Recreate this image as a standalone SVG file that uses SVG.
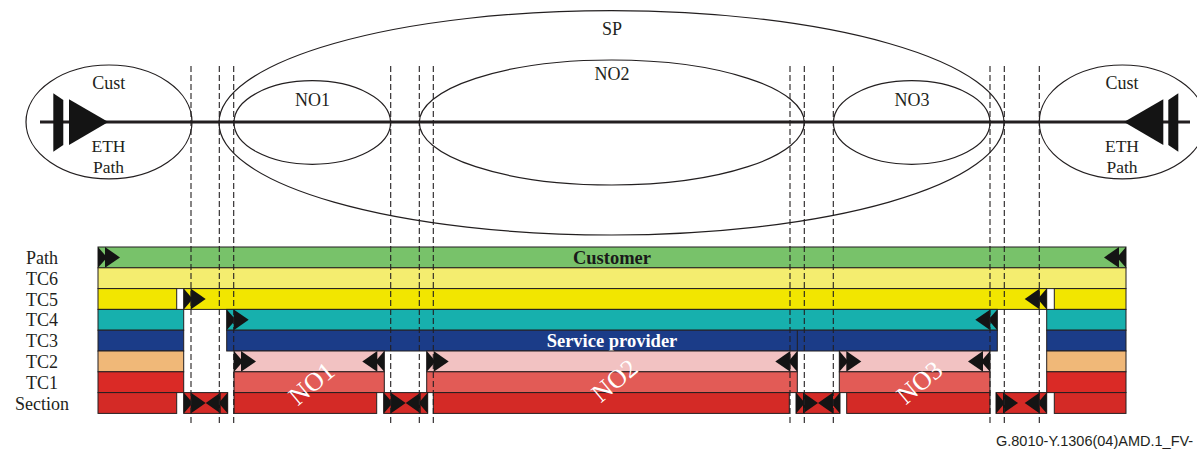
<svg xmlns="http://www.w3.org/2000/svg" width="1197" height="450" viewBox="0 0 1197 450">
<style>
.t{font-family:"Liberation Serif","Times New Roman",serif;font-size:18px;fill:#231f20;text-anchor:middle}
.s{font-family:"Liberation Serif","Times New Roman",serif;font-size:17.5px;fill:#231f20;text-anchor:middle}
.b{font-family:"Liberation Serif","Times New Roman",serif;font-size:18.5px;font-weight:bold;text-anchor:middle}
.r{font-family:"Liberation Serif","Times New Roman",serif;font-size:26px;fill:#fff;text-anchor:middle}
.e{fill:none;stroke:#231f20;stroke-width:1.2}
.bar rect{stroke:#231f20;stroke-width:1}
.dash{stroke:#231f20;stroke-width:1.1;stroke-dasharray:6 3;fill:none}
.ah{fill:#141414}
</style>
<defs>
<g id="ar" class="ah"><polygon points="0,0 9,10.4 0,20.8"/><polygon points="7,0 22,10.4 7,20.8"/></g>
<g id="al" class="ah"><polygon points="0,0 -9,10.4 0,20.8"/><polygon points="-7,0 -22,10.4 -7,20.8"/></g>
</defs>
<rect width="1197" height="450" fill="#fff"/>

<g id="node-sp"><ellipse class="e" cx="611.5" cy="122.8" rx="392.5" ry="112.2"/><text class="t" x="612" y="35">SP</text></g>
<g id="node-no1"><ellipse class="e" cx="312.3" cy="122.5" rx="78.3" ry="41.8"/><text class="t" x="312.5" y="106">NO1</text></g>
<g id="node-no2"><ellipse class="e" cx="611.8" cy="122.5" rx="192.5" ry="62.5"/><text class="t" x="612" y="80">NO2</text></g>
<g id="node-no3"><ellipse class="e" cx="911.7" cy="122.5" rx="78.3" ry="41.8"/><text class="t" x="912" y="106">NO3</text></g>
<g id="node-cust-left"><ellipse class="e" cx="109" cy="121.9" rx="83" ry="56.9"/><text class="t" x="108.7" y="89.3">Cust</text><text class="s" x="108.5" y="152">ETH</text><text class="s" x="108.5" y="172.5">Path</text></g>
<g id="node-cust-right"><ellipse class="e" cx="1122.3" cy="121.9" rx="83" ry="56.9"/><text class="t" x="1122" y="89.3">Cust</text><text class="s" x="1122" y="152">ETH</text><text class="s" x="1122" y="172.5">Path</text></g>

<g id="connectors">
<line x1="40" y1="122" x2="1190" y2="122" stroke="#231f20" stroke-width="3"/>
<polygon class="ah" points="53.3,93.3 63.3,100 63.3,145 53.3,151.7"/>
<polygon class="ah" points="69,99.3 108.3,122 69,145"/>
<polygon class="ah" points="1178.3,93.3 1168.3,100 1168.3,145 1178.3,151.7"/>
<polygon class="ah" points="1163.3,99.3 1124,122 1163.3,145"/>
</g>

<g id="labels">
<text class="t" x="42" y="264">Path</text>
<text class="t" x="42" y="284.8">TC6</text>
<text class="t" x="42" y="305.6">TC5</text>
<text class="t" x="42" y="326.4">TC4</text>
<text class="t" x="42" y="347.2">TC3</text>
<text class="t" x="42" y="368">TC2</text>
<text class="t" x="42" y="388.8">TC1</text>
<text class="t" x="42" y="409.6">Section</text>
</g>

<g id="row-path" class="bar">
<rect x="98" y="247" width="1028" height="20.8" fill="#78c26a"/>
<use href="#ar" x="98" y="247"/><use href="#al" x="1126" y="247"/>
<text class="b" x="612" y="264" fill="#1a1a1a">Customer</text>
</g>
<g id="row-tc6" class="bar">
<rect x="98" y="267.8" width="1028" height="20.8" fill="#f4ed6f"/>
</g>
<g id="row-tc5" class="bar">
<rect x="98" y="288.6" width="78.7" height="20.8" fill="#f2e600"/>
<rect x="183.7" y="288.6" width="863" height="20.8" fill="#f2e600"/>
<rect x="1054.3" y="288.6" width="71.7" height="20.8" fill="#f2e600"/>
<use href="#ar" x="183.7" y="288.6"/><use href="#al" x="1046.7" y="288.6"/>
</g>
<g id="row-tc4" class="bar">
<rect x="98" y="309.4" width="85.7" height="20.8" fill="#17b0ad"/>
<rect x="226.7" y="309.4" width="770.6" height="20.8" fill="#17b0ad"/>
<rect x="1046.7" y="309.4" width="79.3" height="20.8" fill="#17b0ad"/>
<use href="#ar" x="226.7" y="309.4"/><use href="#al" x="997.3" y="309.4"/>
</g>
<g id="row-tc3" class="bar">
<rect x="98" y="330.2" width="85.7" height="20.8" fill="#1b3c88"/>
<rect x="226.7" y="330.2" width="770.6" height="20.8" fill="#1b3c88"/>
<rect x="1046.7" y="330.2" width="79.3" height="20.8" fill="#1b3c88"/>
<line x1="797.3" y1="330.2" x2="797.3" y2="351" stroke="#231f20" stroke-width="1"/>
<text class="b" x="612" y="347.3" fill="#fff">Service provider</text>
</g>
<g id="row-tc2" class="bar">
<rect x="98" y="351" width="85.7" height="20.8" fill="#f0b878"/>
<rect x="234" y="351" width="150.3" height="20.8" fill="#f2c2c2"/>
<rect x="426.7" y="351" width="370.6" height="20.8" fill="#f2c2c2"/>
<rect x="839.3" y="351" width="150.7" height="20.8" fill="#f2c2c2"/>
<rect x="1046.7" y="351" width="79.3" height="20.8" fill="#f0b878"/>
<use href="#ar" x="234" y="351"/><use href="#al" x="384.3" y="351"/>
<use href="#ar" x="426.7" y="351"/><use href="#al" x="797.3" y="351"/>
<use href="#ar" x="839.3" y="351"/><use href="#al" x="990" y="351"/>
</g>
<g id="row-tc1" class="bar">
<rect x="98" y="371.8" width="85.7" height="20.8" fill="#da2a26"/>
<rect x="234" y="371.8" width="150.3" height="20.8" fill="#e25b56"/>
<rect x="426.7" y="371.8" width="370.6" height="20.8" fill="#e25b56"/>
<rect x="839.3" y="371.8" width="150.7" height="20.8" fill="#e25b56"/>
<rect x="1046.7" y="371.8" width="79.3" height="20.8" fill="#da2a26"/>
</g>
<g id="row-section" class="bar">
<rect x="98" y="392.6" width="78.7" height="20.8" fill="#d42a26"/>
<rect x="183.7" y="392.6" width="44" height="20.8" fill="#d42a26"/>
<rect x="234" y="392.6" width="142.7" height="20.8" fill="#d42a26"/>
<rect x="383.7" y="392.6" width="44" height="20.8" fill="#d42a26"/>
<rect x="433.3" y="392.6" width="356" height="20.8" fill="#d42a26"/>
<rect x="796" y="392.6" width="44" height="20.8" fill="#d42a26"/>
<rect x="846.7" y="392.6" width="143.3" height="20.8" fill="#d42a26"/>
<rect x="996" y="392.6" width="50.7" height="20.8" fill="#d42a26"/>
<rect x="1054.3" y="392.6" width="71.7" height="20.8" fill="#d42a26"/>
<use href="#ar" x="183.7" y="392.6"/><use href="#al" x="227.7" y="392.6"/>
<use href="#ar" x="383.7" y="392.6"/><use href="#al" x="427.7" y="392.6"/>
<use href="#ar" x="796" y="392.6"/><use href="#al" x="840" y="392.6"/>
<use href="#ar" x="996" y="392.6"/><use href="#al" x="1046.7" y="392.6"/>
</g>

<g id="domain-labels">
<text class="r" transform="translate(312,384) rotate(-40)" y="8">NO1</text>
<text class="r" transform="translate(615,381) rotate(-40)" y="8">NO2</text>
<text class="r" transform="translate(920,383) rotate(-40)" y="8">NO3</text>
</g>

<g id="dashes" class="dash">
<line x1="191" y1="66" x2="191" y2="425"/>
<line x1="219.3" y1="66" x2="219.3" y2="425"/>
<line x1="233.7" y1="66" x2="233.7" y2="425"/>
<line x1="390.7" y1="66" x2="390.7" y2="425"/>
<line x1="419.3" y1="66" x2="419.3" y2="425"/>
<line x1="433.3" y1="66" x2="433.3" y2="425"/>
<line x1="790" y1="66" x2="790" y2="425"/>
<line x1="804.3" y1="66" x2="804.3" y2="425"/>
<line x1="833.3" y1="66" x2="833.3" y2="425"/>
<line x1="990" y1="66" x2="990" y2="425"/>
<line x1="1004.3" y1="66" x2="1004.3" y2="425"/>
<line x1="1039.3" y1="66" x2="1039.3" y2="425"/>
</g>

<text x="996" y="446" font-family="'Liberation Sans',Arial,sans-serif" font-size="14.5" fill="#231f20">G.8010-Y.1306(04)AMD.1_FV-</text>
</svg>
